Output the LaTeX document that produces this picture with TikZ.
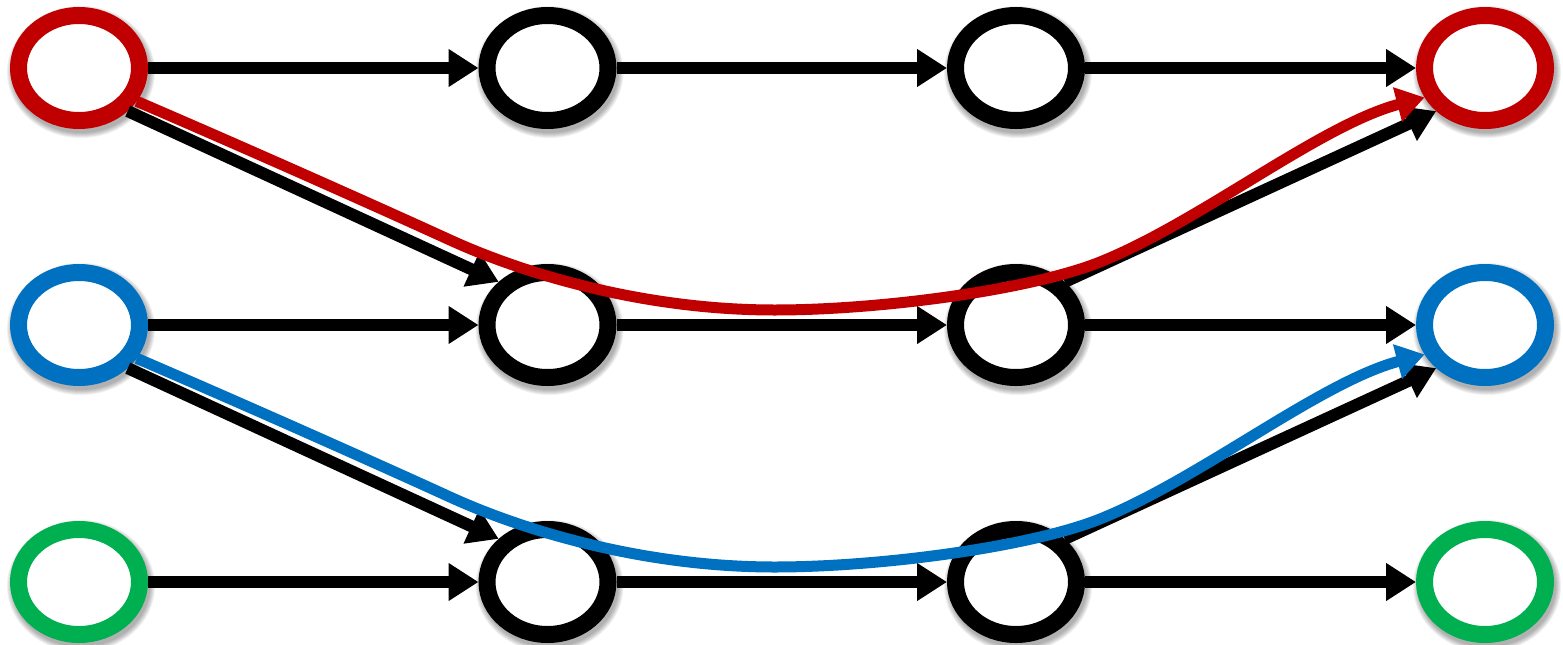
\documentclass[tikz,border=0pt]{standalone}
\usetikzlibrary{arrows.meta,shapes.geometric}
\definecolor{cred}{RGB}{192,0,0}
\definecolor{cblue}{RGB}{0,112,192}
\definecolor{cgreen}{RGB}{0,176,80}
\begin{document}
\begin{tikzpicture}[x=1pt,y=-1pt,
  sh/.style={preaction={draw=black, draw opacity=0.06, line width=#1, transform canvas={xshift=2pt,yshift=-4pt}}},
  ring/.style={ellipse, draw=black, line width=17pt, fill=white, minimum width=121pt, minimum height=105pt, inner sep=0pt,
    sh=17pt, sh=19pt, sh=21pt, sh=23pt, sh=25pt, sh=27pt},
  conn/.style={line width=12pt, -{Triangle[length=30pt,width=36pt]}},
  flow/.style={line width=11pt, -{Triangle[length=28pt,width=34pt]}}]
\useasboundingbox (0,0) rectangle (1563,645);
% nodes
\node[ring, draw=cred]   (n00) at (79,68) {};
\node[ring]              (n01) at (547.5,68) {};
\node[ring]              (n02) at (1016,68) {};
\node[ring, draw=cred]   (n03) at (1485,68) {};
\node[ring, draw=cblue]  (n10) at (79,325) {};
\node[ring]              (n11) at (547.5,325) {};
\node[ring]              (n12) at (1016,325) {};
\node[ring, draw=cblue]  (n13) at (1485,325) {};
\node[ring, draw=cgreen] (n20) at (79,582) {};
\node[ring]              (n21) at (547.5,582) {};
\node[ring]              (n22) at (1016,582) {};
\node[ring, draw=cgreen] (n23) at (1485,582) {};
% horizontal connectors
\foreach \r in {0,1,2}{
  \draw[conn] (n\r0) -- (n\r1);
  \draw[conn] (n\r1) -- (n\r2);
  \draw[conn] (n\r2) -- (n\r3);
}
% diagonal connectors
\draw[conn] (n00.south east) -- (n11.north west);
\draw[conn] (n12.north east) -- (n03.south west);
\draw[conn] (n10.south east) -- (n21.north west);
\draw[conn] (n22.north east) -- (n13.south west);
% coloured paths
\draw[flow, draw=cred] (n00.-30) .. controls (250,150) and (380,208) .. (450,240)
  .. controls (520,272) and (640,310) .. (775,310)
  .. controls (880,310) and (1030,290) .. (1100,262)
  .. controls (1200,222) and (1320,125) .. (n03.206);
\draw[flow, draw=cblue] (n10.-30) .. controls (250,407) and (380,465) .. (450,497)
  .. controls (520,529) and (640,567) .. (775,567)
  .. controls (880,567) and (1030,547) .. (1100,519)
  .. controls (1200,479) and (1320,382) .. (n13.206);
\end{tikzpicture}
\end{document}
